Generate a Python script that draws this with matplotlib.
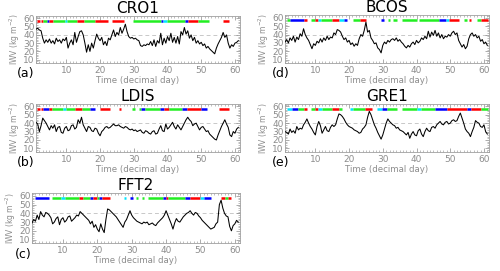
import matplotlib
matplotlib.use("Agg")
import matplotlib.pyplot as plt
import numpy as np
from matplotlib.ticker import MultipleLocator

# half-day samples from day 1.0 to 61.0
days = np.arange(1.0, 61.01, 0.5)

iwv_cro1 = [47, 48, 46, 45, 36, 30, 34, 31, 35, 30, 33, 29, 36, 32, 34, 30, 35, 33, 37, 24,
            30, 34, 28, 43, 31, 38, 44, 45, 40, 30, 19, 28, 20, 30, 24, 33, 41, 36, 33, 37,
            28, 32, 27, 36, 34, 40, 46, 38, 43, 40, 49, 42, 47, 53, 44, 38, 36, 37, 35, 36,
            34, 33, 27, 26, 28, 27, 29, 28, 32, 27, 34, 26, 33, 30, 42, 28, 36, 30, 38, 33,
            42, 31, 37, 30, 38, 29, 44, 40, 49, 41, 45, 36, 40, 33, 37, 30, 33, 29, 31, 27,
            29, 24, 26, 23, 21, 19, 17, 24, 29, 33, 37, 43, 37, 40, 30, 24, 28, 26, 30, 31, 33]

iwv_ldis = [41, 39, 30, 37, 46, 43, 40, 36, 32, 37, 34, 38, 30, 35, 36, 29, 28, 34, 36, 31,
            32, 37, 38, 33, 35, 44, 40, 47, 38, 34, 30, 36, 35, 31, 30, 34, 33, 28, 25, 30,
            32, 35, 36, 34, 35, 37, 39, 37, 37, 38, 36, 35, 34, 36, 35, 33, 32, 33, 31, 32,
            30, 31, 32, 29, 28, 31, 30, 28, 27, 30, 31, 27, 28, 33, 37, 31, 30, 39, 33, 35,
            38, 41, 36, 33, 38, 35, 32, 36, 40, 44, 47, 44, 42, 37, 39, 40, 36, 32, 35, 36,
            33, 30, 31, 27, 25, 23, 21, 20, 26, 31, 36, 40, 44, 39, 35, 26, 24, 30, 28, 33, 35]

iwv_fft2 = [29, 33, 31, 38, 33, 42, 38, 36, 41, 40, 38, 35, 28, 30, 34, 36, 27, 33, 35, 30,
            32, 36, 37, 31, 33, 35, 38, 37, 42, 40, 38, 36, 34, 32, 28, 31, 24, 27, 22, 19,
            28, 22, 18, 33, 45, 44, 42, 40, 38, 36, 33, 30, 27, 24, 30, 33, 38, 43, 38, 35,
            33, 31, 30, 29, 28, 30, 29, 30, 27, 28, 29, 27, 26, 29, 31, 33, 35, 38, 43, 38,
            33, 28, 22, 29, 34, 31, 30, 33, 36, 38, 40, 41, 43, 40, 38, 41, 40, 37, 35, 32,
            30, 28, 26, 24, 22, 23, 24, 28, 30, 50, 55, 46, 40, 37, 36, 25, 20, 26, 28, 32, 30]

iwv_bcos = [31, 34, 30, 36, 33, 38, 31, 37, 34, 41, 38, 47, 40, 36, 33, 28, 23, 29, 27, 32,
            30, 35, 31, 36, 33, 38, 34, 37, 36, 42, 40, 46, 45, 43, 38, 34, 36, 31, 33, 28,
            30, 26, 29, 27, 35, 40, 38, 45, 55, 43, 45, 36, 33, 29, 30, 24, 22, 18, 27, 31,
            29, 33, 31, 34, 35, 33, 36, 32, 34, 31, 29, 26, 24, 27, 25, 29, 31, 28, 33, 30,
            32, 36, 34, 38, 35, 44, 37, 43, 39, 45, 38, 42, 36, 40, 35, 38, 37, 40, 38, 42,
            44, 40, 42, 33, 29, 25, 28, 23, 26, 35, 40, 42, 38, 40, 36, 38, 32, 34, 29, 31, 27]

iwv_gre1 = [30, 29, 27, 33, 29, 31, 28, 36, 32, 34, 33, 38, 41, 45, 40, 36, 33, 29, 26, 36,
            42, 37, 28, 32, 36, 31, 30, 35, 38, 36, 38, 45, 51, 50, 48, 45, 41, 38, 36, 35,
            34, 32, 31, 30, 28, 29, 33, 35, 38, 47, 54, 50, 44, 38, 34, 29, 25, 21, 26, 33,
            40, 45, 42, 40, 38, 37, 34, 35, 32, 31, 30, 28, 26, 29, 22, 27, 30, 26, 25, 31,
            33, 27, 24, 30, 34, 31, 30, 35, 36, 34, 38, 40, 42, 39, 38, 41, 42, 39, 40, 43,
            44, 42, 43, 48, 52, 46, 40, 33, 30, 28, 24, 30, 35, 43, 41, 40, 36, 35, 38, 30, 27]

# flag segments (start day, end day, class)
seg_cro1 = [(1.4, 2.2, 'r'), (2.5, 3.2, 'r'), (3.2, 4.2, 'g'), (4.2, 5.0, 'b'), (5.0, 6.0, 'r'),
            (6.0, 9.6, 'g'), (9.6, 10.1, 'c'), (10.1, 13.3, 'g'), (13.3, 15.1, 'r'), (15.1, 18.4, 'g'),
            (18.4, 22.5, 'r'), (23.5, 27.2, 'r'), (29.8, 38.1, 'g'), (38.1, 38.7, 'b'), (38.7, 39.9, 'c'),
            (39.9, 45.3, 'g'), (45.3, 46.0, 'b'), (46.0, 49.1, 'r'), (49.1, 52.3, 'g'), (56.5, 58.2, 'r')]
seg_ldis = [(1.4, 2.2, 'r'), (2.4, 3.0, 'r'), (3.0, 5.0, 'b'), (5.0, 5.7, 'r'), (5.7, 9.1, 'g'),
            (9.1, 9.8, 'c'), (9.8, 12.6, 'g'), (12.6, 14.6, 'r'), (14.6, 17.1, 'g'), (17.1, 18.6, 'b'),
            (20.0, 23.0, 'r'), (25.5, 26.2, 'r'), (29.5, 30.3, 'g'), (31.5, 32.0, 'g'), (32.0, 33.4, 'b'),
            (33.4, 37.9, 'g'), (37.9, 38.9, 'b'), (38.9, 40.4, 'r'), (40.4, 44.4, 'g'), (44.4, 45.8, 'b'),
            (45.8, 49.8, 'r'), (49.8, 51.8, 'b'), (55.3, 58.2, 'r')]
seg_fft2 = [(2.0, 6.0, 'b'), (6.9, 9.4, 'g'), (9.4, 10.6, 'c'), (10.6, 14.6, 'g'), (14.6, 15.9, 'r'),
            (15.9, 17.8, 'g'), (17.8, 18.8, 'b'), (18.8, 19.8, 'r'), (19.8, 20.5, 'g'), (20.5, 21.3, 'b'),
            (21.3, 23.8, 'r'), (27.7, 28.2, 'c'), (29.5, 30.4, 'b'), (31.2, 31.7, 'g'), (33.0, 33.7, 'g'),
            (34.7, 39.1, 'g'), (39.1, 39.9, 'b'), (39.9, 40.6, 'r'), (40.6, 45.6, 'g'), (45.6, 47.0, 'b'),
            (47.0, 50.0, 'r'), (50.0, 51.0, 'c'), (51.0, 53.0, 'b'), (56.0, 57.1, 'r'), (57.1, 57.9, 'g'),
            (57.9, 58.9, 'r')]
seg_bcos = [(1.7, 2.5, 'g'), (2.5, 6.5, 'b'), (6.5, 7.6, 'r'), (8.7, 9.9, 'g'), (9.9, 10.9, 'r'),
            (10.9, 11.6, 'c'), (11.6, 14.9, 'g'), (14.9, 16.9, 'r'), (16.9, 18.4, 'c'), (18.4, 19.4, 'b'),
            (21.1, 23.1, 'g'), (23.1, 25.1, 'r'), (29.6, 30.3, 'b'), (31.6, 32.1, 'g'), (33.0, 34.2, 'g'),
            (35.7, 40.2, 'g'), (40.7, 46.6, 'g'), (46.6, 48.6, 'b'), (48.6, 49.6, 'c'), (49.6, 52.6, 'r'),
            (54.1, 55.1, 'g'), (55.6, 56.3, 'r'), (58.0, 59.0, 'g'), (59.0, 61.2, 'r')]
seg_gre1 = [(1.7, 3.0, 'c'), (3.0, 5.0, 'b'), (5.0, 6.5, 'g'), (6.5, 7.4, 'r'), (8.6, 9.9, 'g'),
            (9.9, 10.9, 'r'), (10.9, 11.9, 'c'), (11.9, 14.9, 'g'), (14.9, 16.9, 'r'), (16.9, 17.9, 'g'),
            (20.3, 21.3, 'c'), (21.3, 24.8, 'g'), (24.8, 26.8, 'r'), (28.3, 29.8, 'c'), (29.8, 31.3, 'b'),
            (31.3, 34.2, 'g'), (35.7, 40.2, 'g'), (40.2, 41.2, 'c'), (41.2, 45.6, 'g'), (45.6, 49.1, 'b'),
            (49.1, 55.1, 'r'), (55.1, 56.1, 'b'), (56.1, 59.0, 'r'), (59.0, 61.2, 'g')]

stations = ['CRO1', 'LDIS', 'FFT2', 'BCOS', 'GRE1']
letters = ['(a)', '(b)', '(c)', '(d)', '(e)']
series = [iwv_cro1, iwv_ldis, iwv_fft2, iwv_bcos, iwv_gre1]
segments = [seg_cro1, seg_ldis, seg_fft2, seg_bcos, seg_gre1]

flag_colors = {'r': '#ff0000', 'g': '#22ee22', 'b': '#0000ff', 'c': '#00e5ff'}
grey = '#8c8c8c'

# axes rectangles in figure fractions
positions = [
    [0.072, 0.768, 0.408, 0.173],
    [0.072, 0.440, 0.408, 0.177],
    [0.064, 0.103, 0.416, 0.184],
    [0.570, 0.768, 0.408, 0.175],
    [0.570, 0.440, 0.408, 0.177],
]
letter_x = [-0.095, -0.095, -0.08, -0.065, -0.065]

fig = plt.figure(figsize=(5.0, 2.71), dpi=100)

for i, name in enumerate(stations):
    ax = fig.add_axes(positions[i])
    ax.axhline(40, color='#c8c8c8', lw=0.7, ls=(0, (4, 3)), zorder=1)
    ax.plot(days, series[i], color='black', lw=0.75, zorder=3)
    for s, e, c in segments[i]:
        ax.hlines(57, s, e, colors=flag_colors[c], lw=1.8, zorder=2)

    ax.set_xlim(1, 61.5)
    ax.set_ylim(6, 63)
    ax.set_yticks([10, 20, 30, 40, 50, 60])
    ax.set_xticks([10, 20, 30, 40, 50, 60])
    ax.xaxis.set_minor_locator(MultipleLocator(1))
    ax.yaxis.set_minor_locator(MultipleLocator(2))
    ax.tick_params(which='both', direction='in', top=True, right=True,
                   colors=grey, labelsize=6.5, pad=2)
    ax.tick_params(which='major', length=3, width=0.5)
    ax.tick_params(which='minor', length=1.5, width=0.4)
    ax.tick_params(axis='y', pad=1)
    for sp in ax.spines.values():
        sp.set_color('#a0a0a0')
        sp.set_linewidth(0.6)

    ax.set_title(name, fontsize=11, pad=1, color='black')
    ax.set_ylabel('IWV (kg m$^{-2}$)', fontsize=5.5, color=grey, labelpad=1)
    ax.set_xlabel('Time (decimal day)', fontsize=6.2, color=grey, labelpad=1)
    ax.text(letter_x[i], -0.22, letters[i], transform=ax.transAxes,
            fontsize=9, ha='left', va='center', color='black')

fig.savefig('out.png', dpi=100)
